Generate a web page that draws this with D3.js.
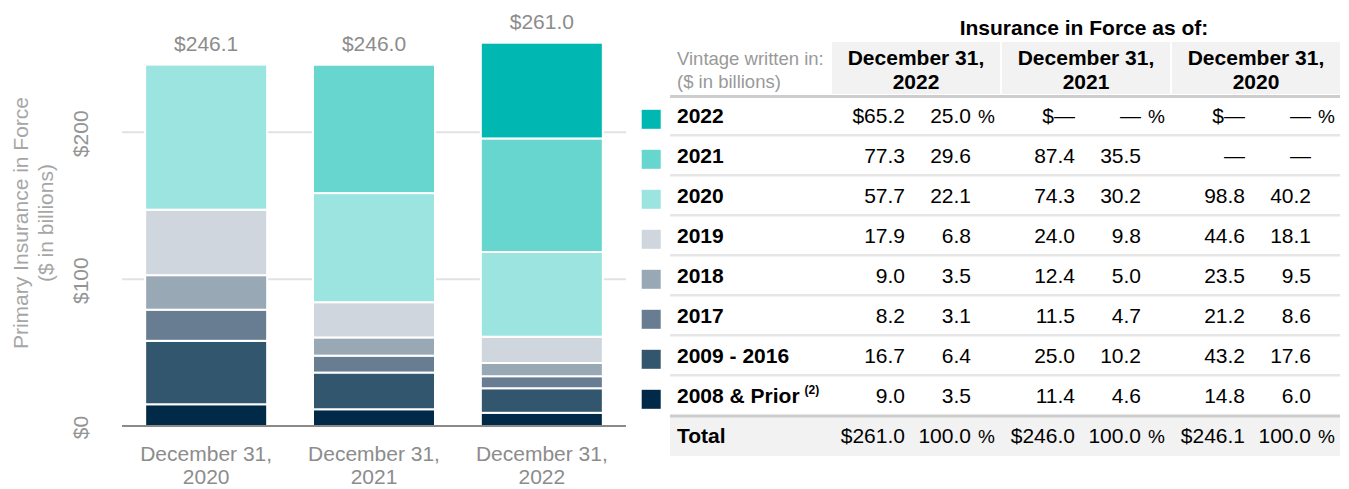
<!DOCTYPE html>
<html>
<head>
<meta charset="utf-8">
<script src="https://cdn.jsdelivr.net/npm/d3@7"></script>
<style>
  body { margin: 0; background: #fff; }
  svg { font-family: "Liberation Sans", Arial, sans-serif; display: block; }
</style>
</head>
<body>
<script>
// Primary insurance in force by vintage - stacked bars + table

// data (table order, newest vintage first)
var vintages = ["2022", "2021", "2020", "2019", "2018", "2017", "2009 - 2016", "2008 & Prior"];
var colors = ["#00b8b1", "#66d6cf", "#9be4e0", "#cfd6dd", "#99a8b5", "#687d91", "#33566f", "#002a48"];

var periods = ["December 31, 2020", "December 31, 2021", "December 31, 2022"];
var amt2020 = [null, null, 98.8, 44.6, 23.5, 21.2, 43.2, 14.8];
var amt2021 = [null, 87.4, 74.3, 24.0, 12.4, 11.5, 25.0, 11.4];
var amt2022 = [65.2, 77.3, 57.7, 17.9, 9.0, 8.2, 16.7, 9.0];
var pct2020 = [null, null, 40.2, 18.1, 9.5, 8.6, 17.6, 6.0];
var pct2021 = [null, 35.5, 30.2, 9.8, 5.0, 4.7, 10.2, 4.6];
var pct2022 = [25.0, 29.6, 22.1, 6.8, 3.5, 3.1, 6.4, 3.5];
var totals = [246.1, 246.0, 261.0];
var yTicks = [0, 100, 200];

var width = 1349, height = 489;
var svg = d3.select("body").append("svg")
    .attr("width", width)
    .attr("height", height);

// ---------- chart ----------
var amounts = [amt2020, amt2021, amt2022];
var stackRows = periods.map(function(p, i) {
    var row = {period: p};
    vintages.forEach(function(v, j) { row[v] = amounts[i][j] || 0; });
    return row;
});
var keysUp = vintages.slice().reverse();
var series = d3.stack().keys(keysUp)(stackRows);

var x = d3.scaleBand()
    .domain(periods)
    .range([122, 626])
    .paddingInner(0.285)
    .paddingOuter(0.144);

var y = d3.scaleLinear()
    .domain([0, d3.max(totals)])
    .range([426, 42.7]);

var color = d3.scaleOrdinal().domain(vintages).range(colors);

// gridlines
svg.append("g").selectAll("line")
    .data(yTicks.filter(function(d) { return d > 0; }))
    .enter().append("line")
    .attr("x1", 122).attr("x2", 626)
    .attr("y1", function(d) { return y(d); })
    .attr("y2", function(d) { return y(d); })
    .attr("stroke", "#e2e2e2")
    .attr("stroke-width", 2);

// bars
svg.append("g").selectAll("g")
    .data(series)
    .enter().append("g")
    .attr("fill", function(d) { return color(d.key); })
    .selectAll("rect")
    .data(function(d) { return d.filter(function(s) { return s[1] - s[0] > 0; }); })
    .enter().append("rect")
    .attr("x", function(d) { return x(d.data.period) - 1; })
    .attr("width", x.bandwidth() + 2)
    .attr("y", function(d) { return y(d[1]); })
    .attr("height", function(d) { return y(d[0]) - y(d[1]); })
    .attr("stroke", "#fff")
    .attr("stroke-width", 2);

// baseline
svg.append("line")
    .attr("x1", 122).attr("x2", 626)
    .attr("y1", y(0)).attr("y2", y(0))
    .attr("stroke", "#8c8a88")
    .attr("stroke-width", 2);

// total labels
svg.append("g").selectAll("text")
    .data(totals)
    .enter().append("text")
    .attr("x", function(d, i) { return x(periods[i]) + x.bandwidth() / 2; })
    .attr("y", function(d) { return y(d) - 13.5; })
    .attr("text-anchor", "middle")
    .attr("font-size", 21)
    .attr("fill", "#8c8c8c")
    .text(function(d) { return "$" + d.toFixed(1); });

// y tick labels (rotated)
svg.append("g").selectAll("text")
    .data(yTicks)
    .enter().append("text")
    .attr("transform", function(d) { return "translate(87.5," + (y(d) + 1.5) + ") rotate(-90)"; })
    .attr("text-anchor", "middle")
    .attr("font-size", 21)
    .attr("fill", "#949494")
    .text(function(d) { return "$" + d; });

// y axis title
var yTitle = svg.append("text")
    .attr("transform", "translate(28,223) rotate(-90)")
    .attr("text-anchor", "middle")
    .attr("font-size", 21)
    .attr("fill", "#a6a6a6");
yTitle.append("tspan").attr("x", 0).attr("y", 0).text("Primary Insurance in Force");
yTitle.append("tspan").attr("x", 0).attr("y", 25).text("($ in billions)");

// x labels
var xl = svg.append("g").selectAll("text")
    .data(periods)
    .enter().append("text")
    .attr("text-anchor", "middle")
    .attr("font-size", 21)
    .attr("fill", "#8c8c8c");
xl.append("tspan")
    .attr("x", function(d) { return x(d) + x.bandwidth() / 2; })
    .attr("y", 461)
    .text(function(d) { return d.split(" ").slice(0, 2).join(" "); });
xl.append("tspan")
    .attr("x", function(d) { return x(d) + x.bandwidth() / 2; })
    .attr("y", 484)
    .text(function(d) { return d.split(" ")[2]; });

// ---------- table ----------
var tablePeriods = periods.slice().reverse();
var tableAmt = [amt2022, amt2021, amt2020];
var tablePct = [pct2022, pct2021, pct2020];
var tableTot = totals.slice().reverse();

var tx0 = 670, tx1 = 1340;
var group = d3.scaleBand()
    .domain(tablePeriods)
    .range([832, 1340])
    .paddingInner(0.012);
var rowY = d3.scaleLinear().domain([0, 1]).range([123.3, 163.3]);

var t = svg.append("g").attr("font-size", 21);

t.append("text")
    .attr("x", 1084).attr("y", 35)
    .attr("text-anchor", "middle")
    .attr("font-weight", "bold")
    .attr("fill", "#000")
    .text("Insurance in Force as of:");

// header background
t.selectAll(".hbg")
    .data(tablePeriods)
    .enter().append("rect")
    .attr("class", "hbg")
    .attr("x", function(d) { return group(d); })
    .attr("y", 42)
    .attr("width", group.bandwidth())
    .attr("height", 52)
    .attr("fill", "#f2f2f2");

var hd = t.selectAll(".hd")
    .data(tablePeriods)
    .enter().append("text")
    .attr("class", "hd")
    .attr("text-anchor", "middle")
    .attr("font-weight", "bold")
    .attr("fill", "#000");
hd.append("tspan")
    .attr("x", function(d) { return group(d) + group.bandwidth() / 2; })
    .attr("y", 65)
    .text(function(d) { return d.split(" ").slice(0, 2).join(" "); });
hd.append("tspan")
    .attr("x", function(d) { return group(d) + group.bandwidth() / 2; })
    .attr("y", 89)
    .text(function(d) { return d.split(" ")[2]; });

var vt = t.append("text").attr("font-size", 18.5).attr("fill", "#999");
vt.append("tspan").attr("x", 677).attr("y", 65).text("Vintage written in:");
vt.append("tspan").attr("x", 677).attr("y", 88).text("($ in billions)");

// total row background
t.append("rect")
    .attr("x", tx0).attr("y", 417)
    .attr("width", tx1 - tx0).attr("height", 39)
    .attr("fill", "#f2f2f2");

// separators
t.selectAll(".sep")
    .data(d3.range(vintages.length - 1))
    .enter().append("line")
    .attr("class", "sep")
    .attr("x1", tx0).attr("x2", tx1)
    .attr("y1", function(i) { return rowY(i) + 12; })
    .attr("y2", function(i) { return rowY(i) + 12; })
    .attr("stroke", "#e6e6e6")
    .attr("stroke-width", 2.5);
[96.5, 416].forEach(function(yy) {
    t.append("line")
        .attr("x1", tx0).attr("x2", tx1)
        .attr("y1", yy).attr("y2", yy)
        .attr("stroke", "#cdcdcd")
        .attr("stroke-width", 3);
});

// swatches + labels
t.selectAll(".sw")
    .data(vintages)
    .enter().append("rect")
    .attr("class", "sw")
    .attr("x", 641.7)
    .attr("y", function(d, i) { return rowY(i) - 13.5; })
    .attr("width", 19).attr("height", 19)
    .attr("fill", function(d) { return color(d); });

var lab = t.selectAll(".lab")
    .data(vintages)
    .enter().append("text")
    .attr("class", "lab")
    .attr("x", 677)
    .attr("y", function(d, i) { return rowY(i); })
    .attr("font-weight", "bold")
    .attr("fill", "#000")
    .text(function(d) { return d; });
lab.filter(function(d) { return d === "2008 & Prior"; })
    .append("tspan")
    .attr("font-size", 12)
    .attr("dx", 5)
    .attr("dy", -9)
    .text("(2)");

function fmt(v) { return v == null ? "\u2014" : v.toFixed(1); }

tablePeriods.forEach(function(p, c) {
    var gx = group(p);
    var amtRight = gx + 73, pctRight = gx + 139;
    t.selectAll(".a" + c)
        .data(tableAmt[c])
        .enter().append("text")
        .attr("x", amtRight)
        .attr("y", function(d, i) { return rowY(i); })
        .attr("text-anchor", "end")
        .attr("fill", "#000")
        .text(function(d, i) { return (i === 0 ? "$" : "") + fmt(d); });
    t.selectAll(".p" + c)
        .data(tablePct[c])
        .enter().append("text")
        .attr("x", pctRight)
        .attr("y", function(d, i) { return rowY(i); })
        .attr("text-anchor", "end")
        .attr("fill", "#000")
        .text(function(d) { return fmt(d); });
    // percent sign on first and total rows
    [0, vintages.length].forEach(function(i) {
        t.append("text")
            .attr("x", pctRight + 24)
            .attr("y", rowY(i))
            .attr("text-anchor", "end")
            .attr("font-size", 19)
            .attr("fill", "#000")
            .text("%");
    });
    t.append("text")
        .attr("x", amtRight)
        .attr("y", rowY(vintages.length))
        .attr("text-anchor", "end")
        .attr("fill", "#000")
        .text("$" + tableTot[c].toFixed(1));
    t.append("text")
        .attr("x", pctRight)
        .attr("y", rowY(vintages.length))
        .attr("text-anchor", "end")
        .attr("fill", "#000")
        .text("100.0");
});

t.append("text")
    .attr("x", 677)
    .attr("y", rowY(vintages.length))
    .attr("font-weight", "bold")
    .attr("fill", "#000")
    .text("Total");
</script>
</body>
</html>
